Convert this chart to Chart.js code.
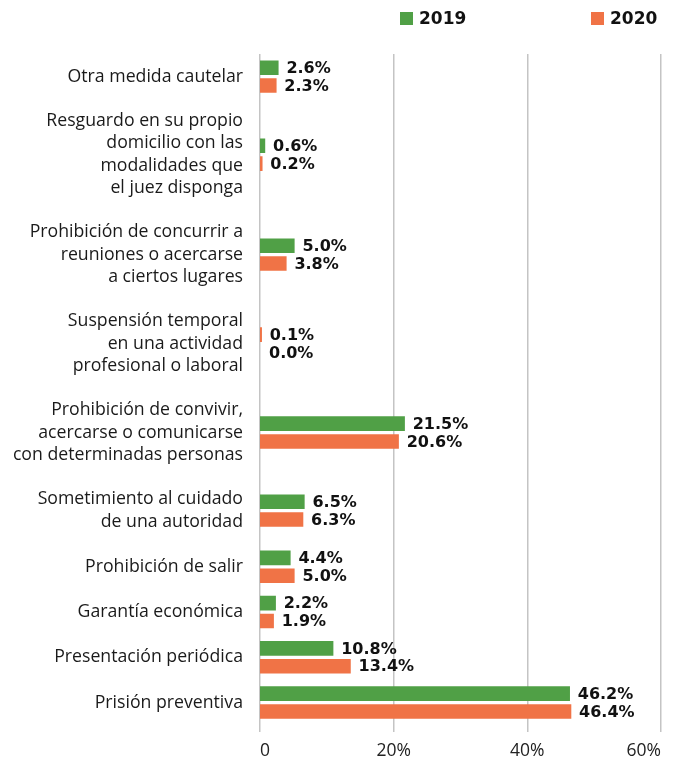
<!DOCTYPE html>
<html>
<head>
<meta charset="utf-8">
<script src="https://cdn.jsdelivr.net/npm/chart.js@4"></script>
<style>
  body { margin: 0; background: #fff; }
  #wrap { position: relative; width: 674px; height: 760px; }
  #wrap canvas { display: block; }
  .key { position: absolute; top: 8px; font: bold 17px "DejaVu Sans", sans-serif; color: #111; display: flex; align-items: center; }
  .key span { display: inline-block; width: 13px; height: 13px; margin-right: 6px; }
</style>
</head>
<body>
<div id="wrap">
  <canvas id="chart" width="674" height="760"></canvas>
  <div class="key" style="left:400px"><span style="background:#50a046"></span>2019</div>
  <div class="key" style="left:591px"><span style="background:#f07346"></span>2020</div>
</div>
<script>
const categories = [
  ['Otra medida cautelar'],
  ['Resguardo en su propio', 'domicilio con las', 'modalidades que', 'el juez disponga'],
  ['Prohibición de concurrir a', 'reuniones o acercarse', 'a ciertos lugares'],
  ['Suspensión temporal', 'en una actividad', 'profesional o laboral'],
  ['Prohibición de convivir,', 'acercarse o comunicarse', 'con determinadas personas'],
  ['Sometimiento al cuidado', 'de una autoridad'],
  ['Prohibición de salir'],
  ['Garantía económica'],
  ['Presentación periódica'],
  ['Prisión preventiva']
];
const values2019 = [2.6, 0.6, 5.0, 0.1, 21.5, 6.5, 4.4, 2.2, 10.8, 46.2];
const values2020 = [2.3, 0.2, 3.8, 0.0, 20.6, 6.3, 5.0, 1.9, 13.4, 46.4];
const xTicks = [0, 20, 40, 60];

const green = '#50a046';
const orange = '#f07346';

// each category gets a slot as tall as its label (in label lines + a gap)
const slotGap = 1.07;
const slots = [];
let acc = 0;
categories.forEach(lines => {
  const h = lines.length + slotGap;
  slots.push(acc + h / 2);
  acc += h;
});
const slotTotal = acc + 0.3;

// the source colours the single 0.1% bar of "Suspensión temporal" orange
const colors2019 = values2019.map((v, i) => i === 3 ? orange : green);

const valueLabels = {
  id: 'valueLabels',
  afterDatasetsDraw(chart) {
    const ctx = chart.ctx;
    ctx.save();
    ctx.font = 'bold 16px "DejaVu Sans", sans-serif';
    ctx.fillStyle = '#111';
    ctx.textAlign = 'left';
    ctx.textBaseline = 'middle';
    chart.data.datasets.forEach((ds, di) => {
      chart.getDatasetMeta(di).data.forEach((bar, i) => {
        ctx.fillText(ds.data[i].x.toFixed(1) + '%', bar.x + 9, bar.y + 1);
      });
    });
    ctx.restore();
  }
};

new Chart(document.getElementById('chart'), {
  type: 'bar',
  data: {
    datasets: [
      {
        label: '2019',
        data: values2019.map((v, i) => ({ x: v, y: slots[i] })),
        backgroundColor: colors2019,
        borderColor: colors2019
      },
      {
        label: '2020',
        data: values2020.map((v, i) => ({ x: v, y: slots[i] })),
        backgroundColor: orange,
        borderColor: orange
      }
    ]
  },
  options: {
    indexAxis: 'y',
    responsive: false,
    animation: false,
    categoryPercentage: 0.79,
    barPercentage: 0.68,
    elements: {
      bar: { borderWidth: 0, inflateAmount: c => (c.raw && c.raw.x > 0 ? 1.2 : 0) }
    },
    layout: { padding: { top: 54, right: 13, bottom: -13, left: 0 } },
    plugins: {
      legend: { display: false },
      tooltip: { enabled: false }
    },
    scales: {
      x: {
        type: 'linear',
        min: 0,
        max: 60,
        afterBuildTicks: s => { s.ticks = xTicks.map(v => ({ value: v })); },
        grid: { color: '#c4c4c4', lineWidth: 1.5, drawTicks: false },
        border: { display: false },
        ticks: {
          align: 'inner',
          padding: 9,
          color: '#222',
          font: { family: 'Open Sans', size: 17.5 },
          callback: v => v === 0 ? '0' : v + '%'
        }
      },
      y: {
        type: 'linear',
        reverse: true,
        offset: false,
        min: 0,
        max: slotTotal,
        afterFit: s => { s.width = 260; },
        afterBuildTicks: s => { s.ticks = slots.map(v => ({ value: v })); },
        grid: { display: false, drawTicks: false },
        border: { display: false },
        ticks: {
          autoSkip: false,
          padding: 17,
          color: '#1a1a1a',
          font: { family: 'Open Sans', size: 17.7, lineHeight: 1.27 },
          callback: (v, i) => categories[i]
        }
      }
    }
  },
  plugins: [valueLabels]
});
</script>
</body>
</html>
